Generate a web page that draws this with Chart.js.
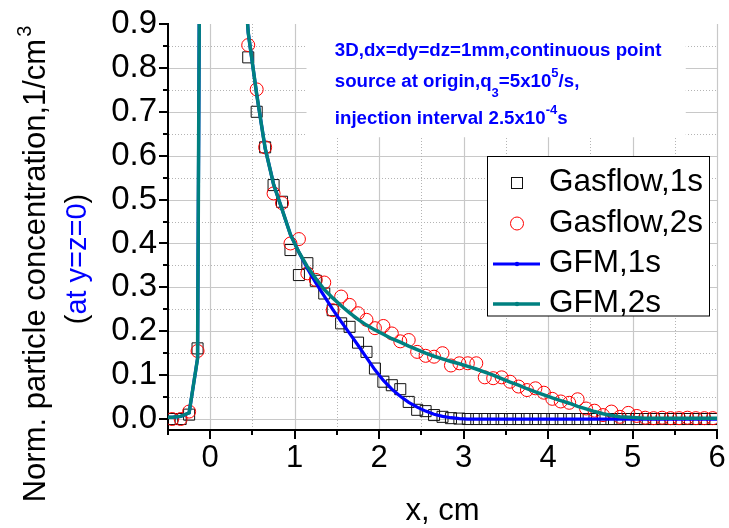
<!DOCTYPE html>
<html>
<head>
<meta charset="utf-8">
<script src="https://cdn.jsdelivr.net/npm/chart.js@4.4.1/dist/chart.umd.min.js"></script>
<style>
html,body{margin:0;padding:0;background:#ffffff;overflow:hidden;}
canvas{display:block;}
</style>
</head>
<body>
<canvas id="chart" width="729" height="528"></canvas>
<script>
// ---------------- data ----------------
const gasX = [-0.45,-0.35,-0.25,-0.15,
  0.45,0.55,0.65,0.75,0.85,0.95,1.05,1.15,1.25,1.35,1.45,1.55,1.65,1.75,1.85,1.95,
  2.05,2.15,2.25,2.35,2.45,2.55,2.65,2.75,2.85,2.95,3.05,3.15,3.25,3.35,3.45,3.55,3.65,3.75,3.85,3.95,
  4.05,4.15,4.25,4.35,4.45,4.55,4.65,4.75,4.85,4.95,5.05,5.15,5.25,5.35,5.45,5.55,5.65,5.75,5.85,5.95];

const gasflow1s = [0,0,0.01,0.161,
  0.824,0.70,0.619,0.533,0.495,0.385,0.328,0.355,0.315,0.286,0.248,0.218,0.21,0.174,0.153,0.115,
  0.085,0.077,0.068,0.039,0.021,0.018,0.009,0.005,0.002,0.001,0,0,0,0,0,0,0,0,0,0,
  0,0,0,0,0,0,0,0,0,0,0,0,0,0,0,0,0,0,0,0];

const gasflow2s = [0,0,0.017,0.155,
  0.852,0.751,0.619,0.514,0.492,0.40,0.41,0.332,0.317,0.311,0.248,0.279,0.26,0.241,0.226,0.207,
  0.212,0.195,0.177,0.18,0.153,0.144,0.142,0.15,0.122,0.127,0.127,0.127,0.095,0.093,0.095,0.085,0.074,0.066,0.07,0.06,
  0.046,0.04,0.037,0.045,0.024,0.019,0.009,0.017,0.005,0.014,0.007,0.003,0.002,0.003,0.002,0.002,0.003,0.002,0.002,0.002];

const gfmX = [-0.5,-0.45,-0.35,-0.25,-0.15,-0.05,0.05,0.15,0.25,0.35,
  0.45,0.55,0.65,0.75,0.85,0.95,1.05,1.15,1.25,1.35,1.45,1.55,1.65,1.75,1.85,1.95,
  2.05,2.15,2.25,2.35,2.45,2.55,2.65,2.75,2.85,2.95,3.05,3.15,3.25,3.35,3.45,3.55,3.65,3.75,3.85,3.95,
  4.05,4.15,4.25,4.35,4.45,4.55,4.65,4.75,4.85,4.95,5.05,5.15,5.25,5.35,5.45,5.55,5.65,5.75,5.85,5.95,6.0];

const gfm1s = [0.004,0.004,0.006,0.014,0.138,4.0,4.0,2.6,1.75,1.15,
  0.88,0.74,0.617,0.535,0.478,0.42,0.38,0.343,0.31,0.28,0.25,0.222,0.195,0.168,0.14,0.112,
  0.088,0.068,0.052,0.038,0.027,0.018,0.011,0.006,0.003,0.001,0,0,0,0,0,0,0,0,0,0,
  0,0,0,0,0,0,0,0,0,0,0,0,0,0,0,0,0,0,0,0,0];

const gfm2s = [0.004,0.004,0.006,0.014,0.138,4.0,4.0,2.6,1.75,1.15,
  0.88,0.74,0.617,0.535,0.478,0.42,0.38,0.347,0.32,0.295,0.276,0.258,0.242,0.227,0.214,0.203,
  0.193,0.183,0.175,0.166,0.158,0.15,0.143,0.137,0.131,0.126,0.12,0.114,0.107,0.1,0.092,0.084,0.077,0.069,0.062,0.055,
  0.048,0.042,0.036,0.029,0.023,0.017,0.012,0.008,0.005,0.004,0.003,0.002,0.002,0.002,0.002,0.002,0.002,0.002,0.002,0.002,0.002];

const xTickLabels = [0,1,2,3,4,5,6];
const xMinorTicks = [-0.5,0.5,1.5,2.5,3.5,4.5,5.5];
const yTickLabels = [0.0,0.1,0.2,0.3,0.4,0.5,0.6,0.7,0.8,0.9];
const yMinorTicks = [0.05,0.15,0.25,0.35,0.45,0.55,0.65,0.75,0.85];
const xGridSolid = [0,1,2,3,4,5,6];
const xGridDotted = [0.5,1.5,2.5,3.5,4.5,5.5];
const yGridSolid = [0.0,0.1,0.2,0.3,0.4,0.5,0.6,0.7,0.8];
const yGridDotted = [0.05,0.15,0.25,0.35,0.45,0.55,0.65,0.75,0.85];

const seriesNames = ['Gasflow,1s','Gasflow,2s','GFM,1s','GFM,2s'];
const xTitle = 'x, cm';
const yTitle = 'Norm. particle concentration,1/cm';
const yTitleSup = '3';
const yTitle2 = ['(', 'at y=z=0', ')'];
const noteLines = [
  [['3D,dx=dy=dz=1mm,continuous point','n']],
  [['source at origin,q','n'],['3','sub'],['=5x10','n'],['5','sup'],['/s,','n']],
  [['injection interval 2.5x10','n'],['-4','sup'],['s','n']]
];

// ---------------- styling ----------------
const FONT = '"Liberation Sans", Arial, Helvetica, sans-serif';
const BLUE = '#0000ff', TEAL = '#008080', RED = '#ff0000', BLACK = '#000000';

const pts = (xs, ys) => xs.map((x, i) => ({x: x, y: ys[i]}));

const decor = {
  id: 'decor',
  beforeDraw(chart) {
    const {ctx, chartArea: a, scales: {x, y}} = chart;
    ctx.save();
    ctx.fillStyle = '#fff';
    ctx.fillRect(0, 0, chart.width, chart.height);
    // solid grid
    ctx.lineWidth = 1.2;
    ctx.strokeStyle = '#c8c8c8';
    ctx.setLineDash([]);
    ctx.beginPath();
    xGridSolid.forEach(v => { const p = Math.round(x.getPixelForValue(v)) + 0.5; ctx.moveTo(p, a.top); ctx.lineTo(p, a.bottom - 1); });
    yGridSolid.forEach(v => { const p = Math.round(y.getPixelForValue(v)) + 0.5; ctx.moveTo(a.left + 1, p); ctx.lineTo(a.right, p); });
    ctx.stroke();
    // dotted grid
    ctx.lineWidth = 1;
    ctx.strokeStyle = '#b4b4b4';
    ctx.setLineDash([1, 2]);
    ctx.beginPath();
    xGridDotted.forEach(v => { const p = Math.round(x.getPixelForValue(v)) + 0.5; ctx.moveTo(p, a.top); ctx.lineTo(p, a.bottom - 1); });
    yGridDotted.forEach(v => { const p = Math.round(y.getPixelForValue(v)) + 0.5; ctx.moveTo(a.left + 1, p); ctx.lineTo(a.right, p); });
    ctx.stroke();
    ctx.setLineDash([]);
    // annotation box (white background)
    const bx0 = x.getPixelForValue(1.14), bx1 = x.getPixelForValue(5.63);
    const by1 = y.getPixelForValue(0.642);
    ctx.fillStyle = '#fff';
    ctx.fillRect(bx0, a.top - 2, bx1 - bx0, by1 - a.top + 2);
    // annotation text
    const tx = x.getPixelForValue(1.475);
    const baselines = [56, 87, 124];
    noteLines.forEach((segs, li) => {
      let cx = tx;
      segs.forEach(([t, kind]) => {
        let dy = 0;
        if (kind === 'n') ctx.font = 'bold 18.7px ' + FONT;
        else ctx.font = 'bold 13px ' + FONT;
        if (kind === 'sup') dy = -10;
        if (kind === 'sub') dy = 10;
        ctx.fillStyle = BLUE;
        ctx.textAlign = 'left';
        ctx.textBaseline = 'alphabetic';
        ctx.fillText(t, cx, baselines[li] + dy);
        cx += ctx.measureText(t).width;
      });
    });
    ctx.restore();
  },
  afterDraw(chart) {
    const {ctx, chartArea: a, scales: {x, y}} = chart;
    ctx.save();
    // tick marks
    ctx.strokeStyle = BLACK;
    ctx.lineWidth = 2;
    ctx.beginPath();
    xTickLabels.forEach(v => { const p = Math.round(x.getPixelForValue(v)); ctx.moveTo(p, a.bottom); ctx.lineTo(p, a.bottom + 9); });
    xMinorTicks.forEach(v => { const p = Math.round(x.getPixelForValue(v)); ctx.moveTo(p, a.bottom); ctx.lineTo(p, a.bottom + 5); });
    yTickLabels.forEach(v => { const p = Math.round(y.getPixelForValue(v)); ctx.moveTo(a.left, p); ctx.lineTo(a.left - 9, p); });
    yMinorTicks.forEach(v => { const p = Math.round(y.getPixelForValue(v)); ctx.moveTo(a.left, p); ctx.lineTo(a.left - 5, p); });
    ctx.stroke();

    // x title
    ctx.fillStyle = BLACK;
    ctx.font = '31px ' + FONT;
    ctx.textAlign = 'center';
    ctx.textBaseline = 'alphabetic';
    ctx.fillText(xTitle, (a.left + a.right) / 2, 520);

    // y title line 1 (rotated)
    ctx.save();
    ctx.font = '31px ' + FONT;
    const w1 = ctx.measureText(yTitle).width;
    ctx.font = '20px ' + FONT;
    const w3 = ctx.measureText(yTitleSup).width;
    const total1 = w1 + 2 + w3;
    ctx.translate(45, 264 + total1 / 2);
    ctx.rotate(-Math.PI / 2);
    ctx.textAlign = 'left';
    ctx.font = '31px ' + FONT;
    ctx.fillText(yTitle, 0, 0);
    ctx.font = '20px ' + FONT;
    ctx.fillText(yTitleSup, w1 + 2, -14);
    ctx.restore();

    // y title line 2 (rotated, mixed colours)
    ctx.save();
    ctx.font = '29px ' + FONT;
    const ws = yTitle2.map(t => ctx.measureText(t).width);
    const total2 = ws.reduce((s, v) => s + v, 0);
    ctx.translate(86, 259 + total2 / 2);
    ctx.rotate(-Math.PI / 2);
    ctx.textAlign = 'left';
    let off = 0;
    yTitle2.forEach((t, i) => {
      ctx.fillStyle = (i === 1) ? BLUE : BLACK;
      ctx.fillText(t, off, 0);
      off += ws[i];
    });
    ctx.restore();

    // legend
    const lx0 = 487.5, ly0 = 156.5, lw = 222, lh = 159.5;
    ctx.fillStyle = '#fff';
    ctx.fillRect(lx0, ly0, lw, lh);
    ctx.strokeStyle = BLACK;
    ctx.lineWidth = 1;
    ctx.strokeRect(lx0, ly0, lw, lh);
    const rowBase = [191, 231.5, 272, 312];
    const ds = chart.data.datasets;
    ds.forEach((d, i) => {
      const cy = rowBase[i] - 8;
      const mx = 517;
      if (i === 0) {
        ctx.strokeStyle = d.borderColor; ctx.lineWidth = 1;
        ctx.strokeRect(mx - 5.5, cy - 5.5, 11, 11);
      } else if (i === 1) {
        ctx.strokeStyle = d.borderColor; ctx.lineWidth = 1;
        ctx.beginPath(); ctx.arc(mx, cy, 6.5, 0, Math.PI * 2); ctx.stroke();
      } else {
        ctx.strokeStyle = d.borderColor; ctx.lineWidth = d.borderWidth;
        ctx.beginPath(); ctx.moveTo(493, cy); ctx.lineTo(540, cy); ctx.stroke();
        ctx.fillStyle = d.borderColor;
        ctx.beginPath(); ctx.arc(mx, cy, 2.2, 0, Math.PI * 2); ctx.fill();
      }
      ctx.fillStyle = BLACK;
      ctx.font = '31.5px ' + FONT;
      ctx.textAlign = 'left';
      ctx.textBaseline = 'alphabetic';
      ctx.fillText(d.label, 549, rowBase[i]);
    });
    ctx.restore();
  }
};

new Chart(document.getElementById('chart'), {
  type: 'scatter',
  data: {
    datasets: [
      {label: seriesNames[0], data: pts(gasX, gasflow1s), pointStyle: 'rect', pointRadius: 7.8,
       borderColor: '#111111', borderWidth: 1, backgroundColor: 'rgba(0,0,0,0)', showLine: false, order: 3},
      {label: seriesNames[1], data: pts(gasX, gasflow2s), pointStyle: 'circle', pointRadius: 6.5,
       borderColor: RED, borderWidth: 1, backgroundColor: 'rgba(0,0,0,0)', showLine: false, order: 2},
      {label: seriesNames[2], data: pts(gfmX, gfm1s), showLine: true, borderColor: BLUE, borderWidth: 3.2,
       pointRadius: 0, tension: 0, backgroundColor: BLUE, order: 1},
      {label: seriesNames[3], data: pts(gfmX, gfm2s), showLine: true, borderColor: TEAL, borderWidth: 3.5,
       pointRadius: 0, tension: 0, backgroundColor: TEAL, order: 0}
    ]
  },
  options: {
    responsive: false,
    animation: false,
    devicePixelRatio: 1,
    events: [],
    layout: {padding: {left: 0, right: 12, top: 24, bottom: 0}},
    plugins: {legend: {display: false}, tooltip: {enabled: false}, title: {display: false}},
    scales: {
      x: {
        type: 'linear', min: -0.5, max: 6,
        afterBuildTicks: s => { s.ticks = xTickLabels.map(v => ({value: v})); },
        afterFit: s => { s.height = 98; s.paddingLeft = 0; s.paddingRight = 0; },
        grid: {display: true, drawOnChartArea: false, color: 'rgba(0,0,0,0)', tickLength: 9},
        border: {display: true, color: BLACK, width: 2},
        ticks: {font: {family: FONT, size: 31}, color: BLACK, padding: 1, maxRotation: 0, autoSkip: false,
                callback: v => String(v)}
      },
      y: {
        type: 'linear', min: -0.025, max: 0.9,
        afterBuildTicks: s => { s.ticks = yTickLabels.map(v => ({value: v})); },
        afterFit: s => { s.width = 168; s.paddingTop = 0; s.paddingBottom = 0; },
        grid: {display: true, drawOnChartArea: false, color: 'rgba(0,0,0,0)', tickLength: 9},
        border: {display: true, color: BLACK, width: 2},
        ticks: {font: {family: FONT, size: 33}, color: BLACK, padding: 2, autoSkip: false,
                callback: v => Number(v).toFixed(1)}
      }
    }
  },
  plugins: [decor]
});
</script>
</body>
</html>
